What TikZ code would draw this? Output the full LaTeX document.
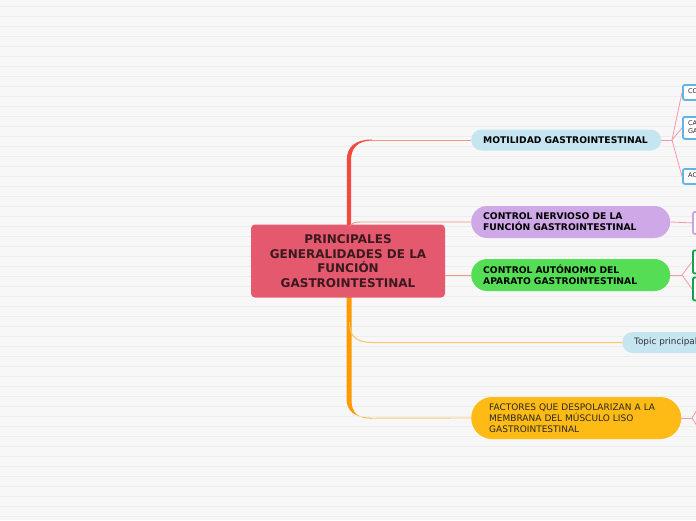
\documentclass[tikz,border=0pt]{standalone}
\usepackage{fontspec}
\setmainfont{DejaVu Sans}
\definecolor{bg}{HTML}{F7F7F7}
\definecolor{stripe}{HTML}{EEEEEE}
\definecolor{central}{HTML}{E5596F}
\definecolor{centraltext}{HTML}{3A1A1E}
\definecolor{trunkred}{HTML}{F24A3C}
\definecolor{trunkorange}{HTML}{FF9A00}
\definecolor{thinred}{HTML}{F3957F}
\definecolor{thinorange}{HTML}{FFC46A}
\definecolor{pinkline}{HTML}{F39AA8}
\definecolor{lightblue}{HTML}{C5E5F0}
\definecolor{lavender}{HTML}{CFA8E8}
\definecolor{green1}{HTML}{55DD55}
\definecolor{yellow1}{HTML}{FFBB15}
\definecolor{blueline}{HTML}{62B4E2}
\definecolor{lavline}{HTML}{C9A3E6}
\definecolor{greenline}{HTML}{13A14A}
\begin{document}
\begin{tikzpicture}[x=1pt,y=-1pt,
  topicbox/.style={anchor=west,inner xsep=12pt,inner ysep=0pt,align=left,font=\bfseries\fontsize{9.2}{11}\selectfont,text=black},
  childbox/.style={line width=1.8pt,fill=white,rounded corners=2pt,anchor=north west,inner sep=0pt},
  thin/.style={line width=0.9pt},
  pink/.style={pinkline,line width=0.8pt}]
\useasboundingbox (0,0) rectangle (696,520);
\clip (0,0) rectangle (696,520);
\fill[bg] (0,0) rectangle (696,520);
\foreach \k in {0,...,51} {\draw[stripe,line width=1pt] (0,6+10*\k) -- (696,6+10*\k);}
% trunk
\fill[trunkred] (346.8,230) -- (346.8,160) .. controls (346.8,147) and (355,139.5) .. (372,139.5) -- (372,140.5) .. controls (358,140.5) and (351,148) .. (351,160) -- (351,230) -- cycle;
\fill[trunkorange] (346.5,295) -- (346.5,398) .. controls (346.5,411) and (354,417.8) .. (372,417.8) -- (372,418.6) .. controls (358,418.6) and (351.5,413) .. (351.5,400) -- (351.5,295) -- cycle;
\coordinate (b1) at (372,140);
\coordinate (b5) at (372,418.2);
% central node
\node[fill=central,rounded corners=4pt,minimum width=194pt,minimum height=73pt,inner sep=0pt,align=center,
  font=\bfseries\fontsize{12}{14.6}\selectfont,text=centraltext] (c) at (348,261)
  {PRINCIPALES\\GENERALIDADES DE LA\\FUNCIÓN\\GASTROINTESTINAL};
% topics
\node[topicbox,fill=lightblue,rounded corners=10.5pt,minimum width=190pt,minimum height=21pt,text width=166pt] (mot) at (471,140) {MOTILIDAD GASTROINTESTINAL};
\node[topicbox,fill=lavender,rounded corners=16pt,minimum width=199pt,minimum height=32pt,text width=175pt] (cn) at (471,222) {CONTROL NERVIOSO DE LA\\FUNCIÓN GASTROINTESTINAL};
\node[topicbox,fill=green1,rounded corners=16pt,minimum width=199pt,minimum height=32pt,text width=175pt] (ca) at (471,275) {CONTROL AUTÓNOMO DEL\\APARATO GASTROINTESTINAL};
\node[topicbox,fill=lightblue,rounded corners=10.5pt,minimum width=90pt,minimum height=21pt,text width=66pt,font=\fontsize{8.8}{10}\selectfont,text=black!80] (tp) at (622,342.5) {Topic principal};
\node[topicbox,fill=yellow1,rounded corners=21pt,minimum width=210pt,minimum height=42pt,text width=174pt,inner xsep=18pt,font=\fontsize{9}{11}\selectfont,text=black!85] (fac) at (471,418) {FACTORES QUE DESPOLARIZAN A LA\\MEMBRANA DEL MÚSCULO LISO\\GASTROINTESTINAL};
% branches from trunk
\draw[thinred,thin] (b1) -- (mot.west);
\draw[thinred,thin] (350,226) .. controls (354,222) .. (366,222) -- (cn.west);
\draw[thinred,thin] (c.east |- ca.west) -- (ca.west);
\draw[thinorange,line width=1pt] (349.5,322) .. controls (349.5,336) and (356,342.5) .. (372,342.5) -- (tp.west);
\draw[thinorange,thin] (b5) -- (fac.west);
% children of motilidad
\node[childbox,draw=blueline,minimum width=30pt,minimum height=15pt] (m1) at (682,84) {};
\node[childbox,draw=blueline,minimum width=30pt,minimum height=22pt] (m2) at (682,116) {};
\node[childbox,draw=blueline,minimum width=30pt,minimum height=15pt] (m3) at (682,168) {};
\node[anchor=west,font=\fontsize{6.5}{7.5}\selectfont,text=black!85,inner sep=0pt] at (688,91.5) {CO};
\node[anchor=west,font=\fontsize{6.5}{7.5}\selectfont,text=black!85,inner sep=0pt,align=left] at (688,127) {CA\\GA};
\node[anchor=west,font=\fontsize{6.5}{7.5}\selectfont,text=black!85,inner sep=0pt] at (688,175.5) {AC};
\coordinate (jm) at (672,140);
\draw[pink] (mot.east) -- (jm);
\draw[pink] (jm) -- (m1.west);
\draw[pink] (jm) -- (m2.west);
\draw[pink] (jm) -- (m3.west);
% child of control nervioso
\node[childbox,draw=lavline,minimum width=30pt,minimum height=22pt] (n1) at (692,211) {};
\draw[pink] (cn.east) -- (n1.west);
% children of control autonomo
\node[childbox,draw=greenline,minimum width=30pt,minimum height=23pt] (a1) at (692,249.5) {};
\node[childbox,draw=greenline,minimum width=30pt,minimum height=23pt] (a2) at (692,276.5) {};
\coordinate (ja) at (682,275);
\draw[pink] (ca.east) -- (ja);
\draw[pink] (ja) -- (a1.west);
\draw[pink] (ja) -- (a2.west);
% factores children (off page)
\coordinate (jf) at (692,418);
\coordinate (f1) at (702,402);
\coordinate (f2) at (702,434);
\draw[pink] (fac.east) -- (jf);
\draw[pink] (jf) -- (f1);
\draw[pink] (jf) -- (f2);
\end{tikzpicture}
\end{document}
